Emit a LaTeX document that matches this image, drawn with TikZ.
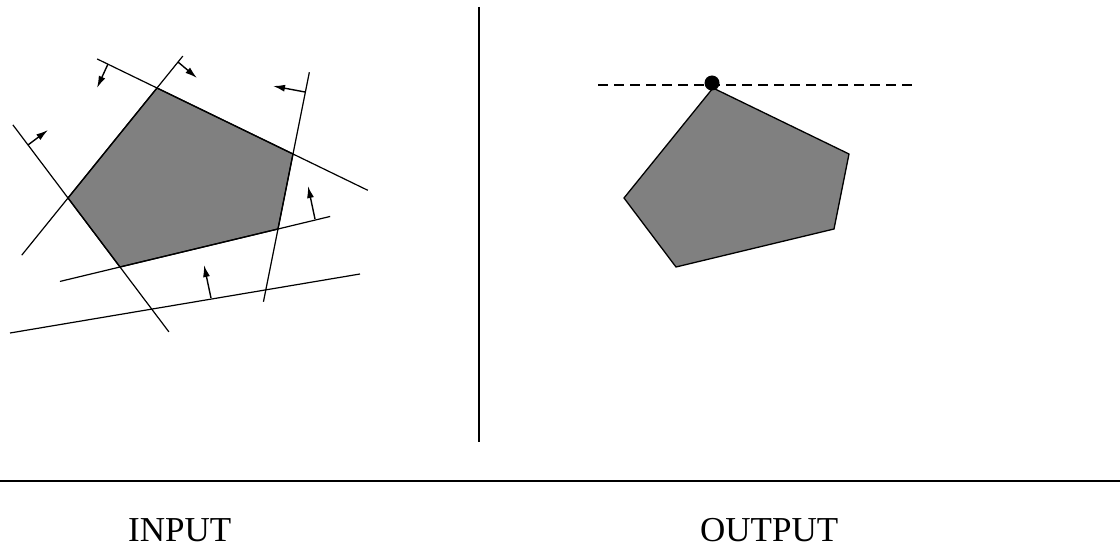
\documentclass[tikz,border=0pt]{standalone}
\usepackage{fontspec}
\setmainfont{Liberation Serif}
\usetikzlibrary{arrows.meta,calc}
\begin{document}
\begin{tikzpicture}[x=1pt,y=-1pt,
  edge/.style={line width=1.2pt},
  poly/.style={draw=black,line width=1.3pt,fill=black!50,line join=miter},
  halfarrow/.style={line width=1.4pt,-{Latex[length=12pt,width=7pt]}},
  divider/.style={line width=2pt},
  label/.style={font=\fontsize{35}{35}\selectfont,anchor=base west,inner sep=0pt}]
\useasboundingbox (0,0) rectangle (1120,548);
% left polygon
\coordinate (pT) at (157,88);
\coordinate (pR) at (293,154);
\coordinate (pBR) at (278,229);
\coordinate (pBL) at (120,267);
\coordinate (pL) at (68,198);
\draw[poly] (pT) -- (pR) -- (pBR) -- (pBL) -- (pL) -- cycle;
% constraint lines (extensions of the edges, plus one redundant line)
\coordinate (l1a) at ($(pT)!-0.44!(pR)$);  \coordinate (l1b) at ($(pT)!1.55!(pR)$);
\coordinate (l2a) at ($(pL)!-0.52!(pT)$);  \coordinate (l2b) at ($(pL)!1.29!(pT)$);
\coordinate (l3a) at ($(pR)!-1.09!(pBR)$); \coordinate (l3b) at ($(pR)!1.97!(pBR)$);
\coordinate (l4a) at ($(pBL)!-0.38!(pBR)$); \coordinate (l4b) at ($(pBL)!1.33!(pBR)$);
\coordinate (l5a) at ($(pL)!-1.06!(pBL)$); \coordinate (l5b) at ($(pL)!1.94!(pBL)$);
\coordinate (l6a) at (10,333); \coordinate (l6b) at (360,274);
\draw[edge] (l1a) -- (l1b);
\draw[edge] (l2a) -- (l2b);
\draw[edge] (l3a) -- (l3b);
\draw[edge] (l4a) -- (l4b);
\draw[edge] (l5a) -- (l5b);
\draw[edge] (l6a) -- (l6b);
% half-plane arrows
\coordinate (a1s) at (108,64);  \coordinate (a1e) at (97,88);
\coordinate (a2s) at (178,62);  \coordinate (a2e) at (197,78);
\coordinate (a3s) at (305,92);  \coordinate (a3e) at (273,86);
\coordinate (a4s) at (315,219); \coordinate (a4e) at (308,186);
\coordinate (a5s) at (211,298); \coordinate (a5e) at (204,265);
\coordinate (a6s) at (28,145);  \coordinate (a6e) at (48,130);
\draw[halfarrow] (a1s) -- (a1e);
\draw[halfarrow] (a2s) -- (a2e);
\draw[halfarrow] (a3s) -- (a3e);
\draw[halfarrow] (a4s) -- (a4e);
\draw[halfarrow] (a5s) -- (a5e);
\draw[halfarrow] (a6s) -- (a6e);
% dividers
\coordinate (vtop) at (479,7);  \coordinate (vbot) at (479,442);
\coordinate (hl) at (0,481);    \coordinate (hr) at (1120,481);
\draw[divider] (vtop) -- (vbot);
\draw[divider] (hl) -- (hr);
% right polygon (same shape, shifted)
\coordinate (qT) at (713,88);
\coordinate (qR) at (849,154);
\coordinate (qBR) at (834,229);
\coordinate (qBL) at (676,267);
\coordinate (qL) at (624,198);
\draw[poly] (qT) -- (qR) -- (qBR) -- (qBL) -- (qL) -- cycle;
\coordinate (dl) at (598,85); \coordinate (dr) at (916,85);
\draw[line width=1.2pt,dash pattern=on 10pt off 6pt] (dl) -- (dr);
\node[circle,fill=black,inner sep=0pt,minimum size=15pt] (opt) at (712,83) {};
% labels
\node[label] (in) at (128,541) {INPUT};
\node[label] (out) at (700,541) {OUTPUT};
\end{tikzpicture}
\end{document}
